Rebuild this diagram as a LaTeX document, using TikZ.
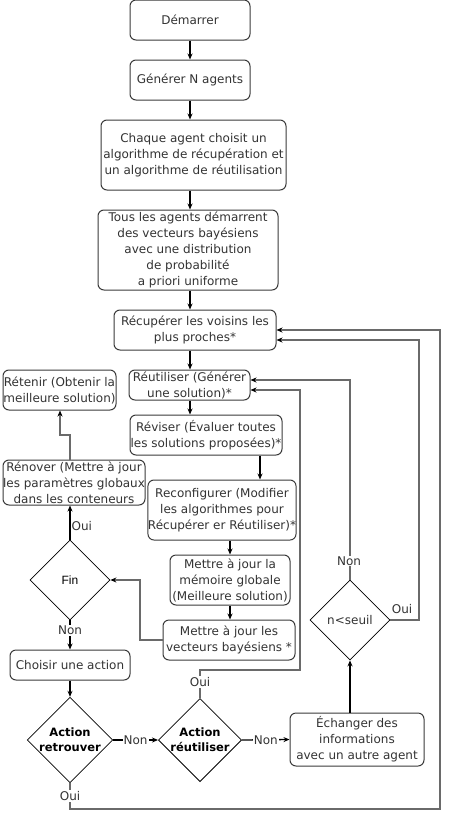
\documentclass[tikz,border=0pt]{standalone}
\usepackage{fontspec}
\setmainfont{DejaVu Sans}
\newfontfamily\arialf{Liberation Sans}
\usetikzlibrary{shapes.geometric,arrows.meta}
\definecolor{boxc}{HTML}{3A3A3A}
\definecolor{txt}{HTML}{333333}
\definecolor{gline}{HTML}{6A6A6A}
\tikzset{
  box/.style={draw=boxc, rounded corners=6pt, line width=1pt, align=center, text=txt,
    font=\fontsize{12}{16}\selectfont, inner sep=0pt, fill=white},
  dia/.style={draw=black, diamond, line width=0.8pt, align=center, inner sep=0pt,
    minimum width=80pt, minimum height=80pt, text=black, font=\fontsize{11.5}{15}\selectfont\bfseries},
  arr/.style={draw=black, line width=1.3pt, -{Stealth[length=6pt,width=5pt]}},
  garr/.style={draw=gline, line width=1.2pt, -{Stealth[length=6pt,width=5pt,color=black]}},
  lbl/.style={text=txt, font=\fontsize{12}{13}\selectfont, inner sep=1pt},
  lblw/.style={lbl, fill=white}
}
\begin{document}
\begin{tikzpicture}[x=1pt,y=-1pt]
\useasboundingbox (0,0) rectangle (449,819);
\node[box, minimum width=120pt, minimum height=40pt] (start) at (190,20) {Démarrer};
\node[box, minimum width=120pt, minimum height=40pt] (gen) at (190,80) {Générer N agents};
\node[box, minimum width=185pt, minimum height=70pt] (chaque) at (193.5,155) {Chaque agent choisit un\\algorithme de récupération et\\un algorithme de réutilisation};
\node[box, minimum width=180pt, minimum height=80pt] (tous) at (188,250) {Tous les agents démarrent\\des vecteurs bayésiens\\avec une distribution\\de probabilité\\a priori uniforme};
\node[box, minimum width=162pt, minimum height=40pt] (recup) at (195,330) {Récupérer les voisins les\\plus proches*};
\node[box, minimum width=121pt, minimum height=30pt] (reut) at (189.5,385) {Réutiliser (Générer\\une solution)*};
\node[box, minimum width=113pt, minimum height=40pt] (ret) at (59.5,390) {Rétenir (Obtenir la\\meilleure solution)};
\node[box, minimum width=152pt, minimum height=40pt] (rev) at (206,435) {Réviser (Évaluer toutes\\les solutions proposées)*};
\node[box, minimum width=142pt, minimum height=45pt] (renov) at (74,482.5) {Rénover (Mettre à jour\\les paramètres globaux\\dans les conteneurs};
\node[box, minimum width=148pt, minimum height=60pt] (reconf) at (222,510) {Reconfigurer (Modifier\\les algorithmes pour\\Récupérer er Réutiliser)*};
\node[box, minimum width=120pt, minimum height=50pt] (mem) at (230,580) {Mettre à jour la\\mémoire globale\\(Meilleure solution)};
\node[box, minimum width=132pt, minimum height=40pt] (vec) at (229,640) {Mettre à jour les\\vecteurs bayésiens *};
\node[box, minimum width=120pt, minimum height=30pt] (choisir) at (70,665) {Choisir une action};
\node[box, minimum width=134pt, minimum height=53pt] (ech) at (357,739.5) {Échanger des\\informations\\avec un autre agent};
\node[dia, font=\fontsize{12}{14}\selectfont\arialf] (fin) at (70,580) {Fin};
\node[dia, font=\fontsize{12}{14}\selectfont, text=txt] (seuil) at (350,620) {n<seuil};
\node[dia] (aret) at (70,740) {Action\\retrouver};
\node[dia] (areu) at (200,740) {Action\\réutiliser};
% main flow
\draw[arr] (start) -- (gen);
\draw[arr] (gen.south) -- (gen.south |- chaque.north);
\draw[arr] (chaque.south -| gen) -- (tous.north -| gen);
\draw[arr] (tous.south -| gen) -- (recup.north -| gen);
\draw[arr] (recup.south -| gen) -- (reut.north -| gen);
\draw[arr] (reut.south -| gen) -- (rev.north -| gen);
\coordinate (c260) at (260,0);
\draw[arr] (rev.south -| c260) -- (reconf.north -| c260);
\draw[arr] (reconf.south -| mem) -- (mem.north);
\draw[arr] (mem) -- (vec.north -| mem);
\draw[garr] (vec.west) -- (140,640) |- (fin.east);
\draw[arr] (fin.north) -- node[lbl, right, pos=0.4]{Oui} (fin.north |- renov.south);
\draw[garr] (renov.north -| fin) -- (70,435) -| (ret.south -| 60,0);
\draw[arr] (fin.south) -- node[lblw, pos=0.35]{Non} (choisir.north);
\draw[arr] (choisir) -- (aret);
\draw[arr] (aret.east) -- node[lblw]{Non} (areu.west);
\draw[arr] (areu.east) -- node[lblw]{Non} (ech.west);
% feedback loops
\draw[garr] (areu.north) -- (200,670) -- (300,670) -- (300,390) -- (reut.east |- 0,390);
\node[lblw] at (200,682) {Oui};
\draw[arr, line width=1.1pt] (ech.north -| seuil) -- (seuil.south);
\draw[garr] (seuil.north) -- (350,380) -- (reut.east |- 0,380);
\node[lblw] at (349,561) {Non};
\draw[garr] (seuil.east) -- (419,620) -- (419,340) -- (recup.east |- 0,340);
\node[lbl] at (402,609) {Oui};
\draw[garr] (aret.south) -- (70,809) -- (440,809) -- (440,330) -- (recup.east |- 0,330);
\node[lblw] at (70,796) {Oui};
\end{tikzpicture}
\end{document}
